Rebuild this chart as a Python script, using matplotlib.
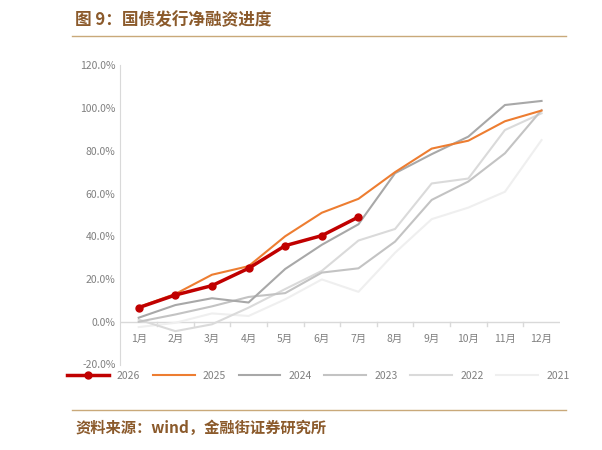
import matplotlib
matplotlib.use("Agg")
import matplotlib.pyplot as plt
from matplotlib.ticker import FuncFormatter

plt.rcParams['font.family'] = ['Noto Sans CJK SC', 'DejaVu Sans']

months = [f"{i}月" for i in range(1, 13)]
s2026 = [6.6, 12.5, 16.9, 25.0, 35.6, 40.3, 49.0]
s2025 = [6.9, 13.0, 22.0, 26.0, 40.0, 51.0, 57.5, 70.0, 81.0, 84.7, 93.8, 98.8]
s2024 = [1.9, 7.8, 11.0, 9.0, 24.7, 36.0, 45.6, 69.5, 78.4, 86.6, 101.4, 103.3]
s2023 = [0.0, 3.4, 7.2, 11.6, 13.4, 23.0, 25.0, 37.5, 57.0, 65.6, 78.8, 99.0]
s2022 = [1.0, -4.4, -1.2, 6.6, 15.3, 23.8, 38.0, 43.4, 64.7, 67.0, 89.7, 97.5]
s2021 = [-2.5, -0.5, 3.9, 2.7, 10.5, 19.8, 14.0, 32.3, 48.0, 53.4, 60.8, 85.0]

fig = plt.figure(figsize=(6.02, 4.5), dpi=100)
fig.text(0.125, 0.955, "图 9：国债发行净融资进度", color="#8B5A2B", fontsize=12, fontweight="bold", va="center")
fig.add_artist(plt.Line2D([0.12, 0.94], [0.92, 0.92], color="#C9A97A", lw=1))
fig.add_artist(plt.Line2D([0.12, 0.94], [0.088, 0.088], color="#C9A97A", lw=1))
fig.text(0.125, 0.048, "资料来源：wind，金融街证券研究所", color="#8B5A2B", fontsize=11, fontweight="bold", va="center")

ax = fig.add_axes([0.2, 0.19, 0.73, 0.665])
x = list(range(12))
ax.plot(x, s2021, color="#EFEFEF", lw=1.5, label="2021", zorder=1)
ax.plot(x, s2022, color="#DADADA", lw=1.5, label="2022", zorder=2)
ax.plot(x, s2023, color="#C3C3C3", lw=1.5, label="2023", zorder=3)
ax.plot(x, s2024, color="#A8A8A8", lw=1.5, label="2024", zorder=4)
ax.plot(x, s2025, color="#ED7D31", lw=1.5, label="2025", zorder=5)
ax.plot(x[:7], s2026, color="#C00000", lw=2.5, marker="o", ms=5, label="2026", zorder=6)

ax.set_ylim(-20, 120)
ax.set_xlim(-0.5, 11.5)
ax.set_yticks(range(-20, 121, 20))
ax.yaxis.set_major_formatter(FuncFormatter(lambda v, p: f"{v:.1f}%"))
ax.set_xticks(x)
ax.set_xticklabels(months)
ax.tick_params(axis='both', labelsize=7.5, colors="#808080", length=0)
ax.tick_params(axis='x', pad=-22)
for s in ["top", "right", "bottom"]:
    ax.spines[s].set_visible(False)
ax.spines["left"].set_color("#D9D9D9")
ax.axhline(0, color="#D9D9D9", lw=1, zorder=0)
for xi in [i + 0.5 for i in range(11)]:
    ax.plot([xi, xi], [0, -2], color="#D9D9D9", lw=1, zorder=0)

h, l = ax.get_legend_handles_labels()
ax.legend(h[::-1], l[::-1], loc="upper center", bbox_to_anchor=(0.45, 0.01), ncol=6,
          frameon=False, fontsize=7.5, handlelength=4, columnspacing=1.2, labelcolor="#808080")
fig.savefig("out.png", dpi=100)
